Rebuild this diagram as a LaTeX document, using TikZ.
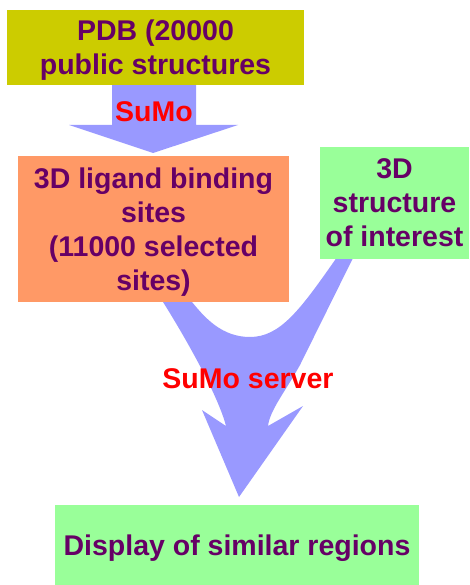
\documentclass[tikz,border=0pt]{standalone}
\usepackage{fontspec}
\setmainfont{Liberation Sans}
\definecolor{txtpurple}{HTML}{660066}
\definecolor{pdbyellow}{HTML}{CCCC00}
\definecolor{ligorange}{HTML}{FF9966}
\definecolor{lightgreen}{HTML}{99FF99}
\definecolor{arrowblue}{HTML}{9999FF}
\definecolor{labelred}{HTML}{FF0000}
\tikzset{
  boxnode/.style={inner sep=0pt, outer sep=0pt, align=center, text=txtpurple,
    text depth=0pt, font=\fontsize{28.5}{34}\selectfont\bfseries},
  arrowlabel/.style={inner sep=0pt, anchor=base, text=labelred,
    font=\fontsize{28.5}{34}\selectfont\bfseries},
  blockarrow/.style={fill=arrowblue, draw=none}
}
\begin{document}
\begin{tikzpicture}[x=1pt,y=-1pt]
\useasboundingbox (0,0) rectangle (469,585);
% top arrow
\fill[blockarrow] (112,80) -- (196,80) -- (196,125) -- (238,125) -- (153,153)
  -- (69,125) -- (112,125) -- cycle;
% merging arrow
\fill[blockarrow] (150,282) -- (163,302) .. controls (185,337) and (218,395) .. (226,426)
  -- (202,410) -- (239,497) -- (303,406) -- (268,426)
  .. controls (270,410) and (285,392) .. (300,365) -- (352,260) -- (362,240)
  -- (345,240) -- (335,260) .. controls (300,310) and (280,337) .. (250,337)
  .. controls (222,337) and (205,318) .. (192,302) -- (178,282) -- cycle;
% boxes
\node[boxnode, fill=pdbyellow, minimum width=297pt, minimum height=75pt]
  (pdb) at (155.5,47.5) {PDB (20000\\public structures};
\node[boxnode, fill=ligorange, minimum width=271pt, minimum height=146pt]
  (lig) at (153.5,229) {3D ligand binding\\sites\\(11000 selected\\sites)};
\node[boxnode, fill=lightgreen, minimum width=149pt, minimum height=112pt]
  (interest) at (394.5,203) {3D\\structure\\of interest};
\node[boxnode, fill=lightgreen, minimum width=364pt, minimum height=80pt]
  (display) at (237,545) {Display of similar regions};
% labels
\node[arrowlabel] (sumo) at (154,122) {SuMo};
\node[arrowlabel] (server) at (248,388) {SuMo server};
\end{tikzpicture}
\end{document}
